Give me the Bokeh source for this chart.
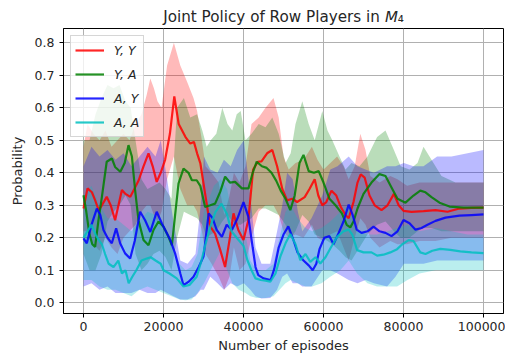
from bokeh.plotting import figure
from bokeh.models import (Range1d, FixedTicker, NumeralTickFormatter, Legend,
                          LegendItem, Title)
from bokeh.embed import file_html
from bokeh.resources import INLINE

# ---------------- data ----------------
SERIES = ["Y, Y", "Y, A", "A, Y", "A, A"]
COLORS = ["#ff0000", "#008000", "#0000ff", "#00bfbf"]

XTICKS = [0, 20000, 40000, 60000, 80000, 100000]
YTICKS = [0.0, 0.1, 0.2, 0.3, 0.4, 0.5, 0.6, 0.7, 0.8]

# mean curves
yy_x = [0, 1000, 2100, 2900, 3800, 4600, 5800, 6800, 7900, 9600,
        10500, 11700, 12700, 13800, 15000, 16250, 17300, 18300, 19300, 20400,
        21600, 22700, 23800, 25500, 26700, 27600, 28400, 29200, 30400, 31700,
        32900, 34200, 35400, 36600, 37500, 38700, 40000, 41200, 42400, 43600,
        44500, 45900, 47200, 48400, 49700, 50900, 52200, 53400, 55300, 56500,
        57800, 58700, 59700, 60700, 62000, 63200, 64300, 65500, 66300, 67500,
        68500, 69300, 70300, 71500, 72800, 74500, 76000, 77600, 78800, 80000,
        82000, 85000, 88000, 91000, 94000, 97000, 100000]
yy_y = [0.29, 0.352, 0.34, 0.316, 0.285, 0.30, 0.326, 0.30, 0.254, 0.347,
        0.335, 0.326, 0.35, 0.377, 0.42, 0.46, 0.42, 0.372, 0.40, 0.44,
        0.52, 0.635, 0.55, 0.51, 0.49, 0.495, 0.46, 0.43, 0.336, 0.234,
        0.213, 0.162, 0.11, 0.20, 0.275, 0.224, 0.193, 0.254, 0.41, 0.434,
        0.435, 0.46, 0.47, 0.42, 0.35, 0.315, 0.32, 0.31, 0.325, 0.35,
        0.38, 0.33, 0.30, 0.31, 0.345, 0.33, 0.295, 0.27, 0.26, 0.31,
        0.37, 0.395, 0.385, 0.33, 0.30, 0.285, 0.30, 0.335, 0.30, 0.283,
        0.28, 0.282, 0.285, 0.28, 0.29, 0.292, 0.293]

ya_x = [0, 700, 1500, 2200, 2900, 3700, 4600, 5800, 7100, 7900,
        9200, 10300, 11250, 12100, 12900, 13750, 15000, 16250, 17500, 18750,
        20000, 21250, 22100, 22900, 23750, 25000, 26250, 27100, 28300, 29200,
        30400, 31700, 32900, 34200, 35400, 36600, 37900, 39600, 41250, 42300,
        43300, 44600, 45800, 47000, 48200, 49300, 50500, 51700, 52800, 54000,
        55000, 56300, 57600, 58800, 60000, 61500, 63000, 64600, 65800, 66700,
        67500, 68500, 70000, 72000, 74000, 75500, 77000, 78500, 80500, 82500,
        84200, 85500, 87000, 89000, 91500, 95000, 100000]
ya_y = [0.331, 0.28, 0.21, 0.18, 0.172, 0.25, 0.326, 0.434, 0.444, 0.418,
        0.403, 0.43, 0.485, 0.45, 0.347, 0.254, 0.193, 0.177, 0.224, 0.25,
        0.234, 0.203, 0.177, 0.27, 0.367, 0.413, 0.40, 0.377, 0.377, 0.36,
        0.295, 0.30, 0.305, 0.342, 0.388, 0.37, 0.372, 0.352, 0.352, 0.40,
        0.434, 0.42, 0.415, 0.40, 0.375, 0.345, 0.32, 0.285, 0.33, 0.43,
        0.455, 0.405, 0.40, 0.405, 0.37, 0.32, 0.30, 0.275, 0.24, 0.232,
        0.25, 0.29, 0.335, 0.37, 0.396, 0.39, 0.355, 0.32, 0.308, 0.33,
        0.345, 0.34, 0.325, 0.308, 0.296, 0.293, 0.293]

ay_x = [0, 830, 2000, 3330, 4200, 5000, 6000, 7080, 8160, 9160,
        10400, 11670, 12800, 14160, 15400, 16700, 18300, 19600, 20600, 21700,
        22900, 24200, 25000, 26300, 27500, 28800, 30000, 31300, 32300, 33300,
        34600, 35800, 37100, 38500, 40000, 41200, 42300, 43000, 43700, 45000,
        46800, 47700, 48800, 50000, 51200, 52300, 53500, 55000, 56300, 57300,
        58200, 59000, 60200, 61500, 62500, 63800, 65000, 66300, 67300, 68300,
        69500, 71000, 72500, 74000, 75500, 77000, 78500, 80000, 81500, 83000,
        84500, 86000, 88000, 90500, 94000, 97000, 100000]
ay_y = [0.198, 0.183, 0.24, 0.29, 0.27, 0.224, 0.2, 0.183, 0.229, 0.183,
        0.152, 0.136, 0.19, 0.28, 0.254, 0.218, 0.28, 0.244, 0.22, 0.193,
        0.152, 0.09, 0.054, 0.065, 0.08, 0.11, 0.142, 0.275, 0.26, 0.224,
        0.203, 0.24, 0.224, 0.26, 0.31, 0.265, 0.17, 0.11, 0.085, 0.075,
        0.07, 0.105, 0.17, 0.21, 0.235, 0.20, 0.155, 0.13, 0.115, 0.10,
        0.12, 0.165, 0.20, 0.205, 0.18, 0.215, 0.25, 0.302, 0.27, 0.225,
        0.215, 0.22, 0.234, 0.22, 0.215, 0.205, 0.22, 0.255, 0.245, 0.225,
        0.23, 0.24, 0.252, 0.262, 0.268, 0.27, 0.272]

aa_x = [0, 1000, 2000, 3000, 4000, 4600, 5400, 6300, 7500, 8700,
        9600, 10500, 11300, 12200, 13200, 14500, 15800, 16800, 18000, 19300,
        20000, 21500, 23300, 25000, 26500, 28300, 29500, 30500, 31700, 33000,
        34500, 35800, 37000, 38300, 40000, 41000, 42000, 43000, 44300, 45500,
        46700, 48000, 49200, 50500, 51700, 53000, 54200, 55500, 56700, 58000,
        59200, 60500, 61700, 63400, 65000, 66300, 67200, 68400, 70000, 72000,
        73400, 75000, 76700, 78400, 79700, 81300, 82500, 84200, 85500, 87200,
        89200, 91700, 94200, 97000, 100000]
aa_y = [0.20, 0.22, 0.24, 0.21, 0.19, 0.18, 0.15, 0.12, 0.11, 0.13,
        0.09, 0.10, 0.06, 0.08, 0.10, 0.13, 0.136, 0.14, 0.13, 0.12,
        0.10, 0.09, 0.075, 0.05, 0.055, 0.08, 0.13, 0.18, 0.234, 0.28,
        0.305, 0.275, 0.22, 0.20, 0.175, 0.13, 0.10, 0.075, 0.07, 0.068,
        0.065, 0.09, 0.142, 0.183, 0.212, 0.18, 0.131, 0.15, 0.126, 0.14,
        0.121, 0.14, 0.167, 0.203, 0.22, 0.225, 0.21, 0.162, 0.155, 0.155,
        0.145, 0.148, 0.155, 0.165, 0.18, 0.193, 0.19, 0.155, 0.15, 0.16,
        0.166, 0.163, 0.158, 0.155, 0.153]

# shaded bands (lower / upper)
yy_bx = [0, 1000, 2500, 4000, 5500, 7000, 8500, 10000, 11500, 13000,
         14500, 15800, 16700, 17600, 18500, 19500, 20900, 22600, 24200, 25900,
         27500, 28400, 29600, 30500, 32000, 33800, 35200, 36500, 37600, 39000,
         40500, 42000, 43800, 45500, 47500, 48800, 50000, 51300, 53000, 55000,
         57100, 58500, 60000, 61700, 63400, 65000, 66300, 67800, 69200, 70500,
         71700, 74000, 76700, 78500, 80900, 84000, 88000, 92000, 96000, 100000]
yy_hi = [0.48, 0.55, 0.52, 0.50, 0.53, 0.48, 0.50, 0.52, 0.50, 0.55,
         0.58, 0.64, 0.69, 0.66, 0.62, 0.60, 0.73, 0.80, 0.73, 0.68,
         0.63, 0.59, 0.50, 0.42, 0.40, 0.37, 0.27, 0.33, 0.40, 0.37,
         0.42, 0.55, 0.57, 0.60, 0.63, 0.57, 0.45, 0.41, 0.43, 0.44,
         0.48, 0.44, 0.41, 0.43, 0.45, 0.42, 0.38, 0.42, 0.52, 0.47,
         0.39, 0.37, 0.39, 0.38, 0.36, 0.37, 0.37, 0.37, 0.37, 0.37]
yy_lo = [0.22, 0.22, 0.18, 0.16, 0.20, 0.17, 0.15, 0.20, 0.22, 0.24,
         0.28, 0.30, 0.30, 0.27, 0.25, 0.28, 0.38, 0.45, 0.35, 0.30,
         0.30, 0.28, 0.22, 0.15, 0.12, 0.08, 0.04, 0.08, 0.17, 0.10,
         0.12, 0.20, 0.28, 0.30, 0.30, 0.27, 0.22, 0.20, 0.21, 0.20,
         0.24, 0.20, 0.19, 0.21, 0.22, 0.17, 0.13, 0.20, 0.26, 0.24,
         0.20, 0.17, 0.19, 0.18, 0.18, 0.19, 0.19, 0.20, 0.20, 0.20]

ya_bx = [0, 1500, 3000, 4500, 6000, 7500, 9000, 10500, 11800, 13000,
         14500, 16000, 17500, 19000, 20500, 22000, 23400, 25100, 26700, 28400,
         29700, 30800, 31800, 33200, 34700, 36000, 37200, 38300, 39300, 40500,
         42000, 43800, 45500, 47200, 48800, 50500, 51800, 53000, 54700, 56300,
         57800, 59700, 61000, 62200, 64000, 65500, 67000, 69000, 71000, 73400,
         75500, 77600, 79300, 81500, 83500, 85000, 87000, 89500, 93000, 100000]
ya_hi = [0.50, 0.50, 0.58, 0.63, 0.67, 0.66, 0.67, 0.62, 0.60, 0.50,
         0.38, 0.35, 0.36, 0.37, 0.35, 0.32, 0.60, 0.63, 0.57, 0.58,
         0.53, 0.48, 0.50, 0.52, 0.60, 0.55, 0.53, 0.58, 0.59, 0.50,
         0.52, 0.55, 0.54, 0.57, 0.52, 0.43, 0.46, 0.55, 0.62, 0.55,
         0.50, 0.59, 0.53, 0.50, 0.45, 0.41, 0.43, 0.42, 0.45, 0.51,
         0.53, 0.47, 0.42, 0.41, 0.43, 0.48, 0.44, 0.39, 0.37, 0.37]
ya_lo = [0.15, 0.10, 0.10, 0.15, 0.25, 0.28, 0.30, 0.33, 0.30, 0.15,
         0.10, 0.12, 0.15, 0.16, 0.14, 0.10, 0.20, 0.28, 0.27, 0.26,
         0.24, 0.20, 0.21, 0.22, 0.25, 0.27, 0.25, 0.24, 0.24, 0.25,
         0.26, 0.29, 0.29, 0.28, 0.27, 0.24, 0.20, 0.22, 0.27, 0.25,
         0.21, 0.20, 0.19, 0.18, 0.16, 0.14, 0.13, 0.17, 0.21, 0.24,
         0.25, 0.22, 0.20, 0.20, 0.22, 0.23, 0.23, 0.22, 0.22, 0.22]

ay_bx = [0, 2000, 4000, 6000, 8000, 10000, 12000, 14000, 16000, 18000,
         19300, 20900, 22500, 24200, 26000, 28000, 29300, 30100, 31700, 33500,
         35100, 36800, 38400, 40100, 41700, 43000, 44500, 46700, 48400, 49700,
         50900, 52300, 53600, 54700, 57000, 59700, 61700, 63500, 66300, 68500,
         70500, 72600, 75900, 78000, 80100, 82500, 85000, 88400, 92000, 96000,
         100000]
ay_hi = [0.42, 0.48, 0.45, 0.47, 0.44, 0.46, 0.42, 0.45, 0.48, 0.45,
         0.50, 0.38, 0.25, 0.13, 0.12, 0.15, 0.30, 0.45, 0.41, 0.40,
         0.44, 0.42, 0.47, 0.50, 0.33, 0.17, 0.12, 0.12, 0.22, 0.30,
         0.40, 0.38, 0.28, 0.22, 0.26, 0.33, 0.41, 0.42, 0.45, 0.42,
         0.41, 0.40, 0.42, 0.42, 0.43, 0.42, 0.42, 0.45, 0.45, 0.46,
         0.47]
ay_lo = [0.05, 0.06, 0.04, 0.05, 0.03, 0.03, 0.03, 0.04, 0.03, 0.03,
         0.04, 0.03, 0.02, 0.01, 0.01, 0.02, 0.04, 0.04, 0.08, 0.06,
         0.04, 0.06, 0.05, 0.06, 0.04, 0.02, 0.013, 0.015, 0.04, 0.08,
         0.09, 0.06, 0.06, 0.05, 0.05, 0.10, 0.10, 0.09, 0.07, 0.06,
         0.07, 0.06, 0.05, 0.08, 0.12, 0.12, 0.12, 0.13, 0.13, 0.13,
         0.13]

aa_bx = [0, 2000, 4000, 6000, 8000, 10000, 12000, 14000, 16000, 18000,
         20000, 22000, 24000, 25500, 27000, 28500, 30100, 32600, 34300, 35900,
         37200, 38800, 40500, 41700, 43300, 45500, 47500, 49000, 50500, 51800,
         53500, 55500, 57200, 59500, 61700, 64200, 66300, 68400, 71000, 73400,
         76000, 78400, 81000, 84000, 88000, 92000, 96000, 100000]
aa_hi = [0.33, 0.36, 0.30, 0.26, 0.26, 0.24, 0.22, 0.25, 0.28, 0.27,
         0.24, 0.18, 0.12, 0.10, 0.11, 0.15, 0.28, 0.36, 0.38, 0.35,
         0.27, 0.24, 0.21, 0.13, 0.10, 0.10, 0.12, 0.20, 0.28, 0.30,
         0.26, 0.23, 0.22, 0.23, 0.25, 0.28, 0.30, 0.22, 0.21, 0.21,
         0.22, 0.23, 0.24, 0.22, 0.23, 0.22, 0.21, 0.21]
aa_lo = [0.07, 0.07, 0.05, 0.04, 0.04, 0.03, 0.02, 0.04, 0.05, 0.04,
         0.03, 0.02, 0.01, 0.008, 0.01, 0.03, 0.06, 0.12, 0.16, 0.10,
         0.06, 0.04, 0.03, 0.02, 0.015, 0.015, 0.02, 0.04, 0.06, 0.07,
         0.06, 0.05, 0.05, 0.06, 0.08, 0.10, 0.13, 0.09, 0.06, 0.05,
         0.05, 0.05, 0.07, 0.09, 0.10, 0.10, 0.10, 0.10]

MEANS = [(yy_x, yy_y), (ya_x, ya_y), (ay_x, ay_y), (aa_x, aa_y)]
BANDS = [(yy_bx, yy_lo, yy_hi), (ya_bx, ya_lo, ya_hi),
         (ay_bx, ay_lo, ay_hi), (aa_bx, aa_lo, aa_hi)]

TITLE = "Joint Policy of Row Players in \U0001D614\u2084"
XLABEL = "Number of episodes"
YLABEL = "Probability"

# ---------------- figure ----------------
FONT = "DejaVu Sans"
TXT = "#262626"

p = figure(width=505, height=356, output_backend="svg", toolbar_location=None,
           title=None,
           x_range=Range1d(-5000, 105000), y_range=Range1d(-0.033, 0.844),
           min_border_left=63, min_border_right=2, min_border_top=28,
           min_border_bottom=43)
p.add_layout(Title(text=TITLE, align="center", text_font=FONT,
                   text_font_size="15.2px", text_font_style="normal",
                   text_color=TXT, standoff=5), "above")
p.background_fill_color = "white"
p.border_fill_color = "white"
p.outline_line_color = "black"
p.outline_line_width = 1
p.outline_line_alpha = 1

for (bx, lo, hi), c in zip(BANDS, COLORS):
    p.varea(x=bx, y1=lo, y2=hi, fill_color=c, fill_alpha=0.27)

line_renderers = []
for (mx, my), c in zip(MEANS, COLORS):
    r = p.line(mx, my, line_color=c, line_width=2.2, line_alpha=0.85)
    line_renderers.append(r)

# axes
p.xaxis.ticker = FixedTicker(ticks=XTICKS)
p.yaxis.ticker = FixedTicker(ticks=YTICKS)
p.xgrid.ticker = FixedTicker(ticks=XTICKS)
p.ygrid.ticker = FixedTicker(ticks=YTICKS)
p.xaxis.formatter = NumeralTickFormatter(format="0")
p.yaxis.formatter = NumeralTickFormatter(format="0.0")
for ax in (p.xaxis, p.yaxis):
    ax.minor_tick_line_color = None
    ax.major_tick_in = 0
    ax.major_tick_out = 4
    ax.major_tick_line_color = "black"
    ax.axis_line_color = "black"
    ax.major_label_text_font = FONT
    ax.major_label_text_font_size = "12.5px"
    ax.major_label_text_color = TXT
    ax.axis_label_text_font = FONT
    ax.axis_label_text_font_size = "13px"
    ax.axis_label_text_font_style = "normal"
    ax.axis_label_text_color = TXT
p.xaxis.major_label_standoff = 4
p.yaxis.major_label_standoff = 5
p.xaxis.axis_label = XLABEL
p.yaxis.axis_label = YLABEL
p.xaxis.axis_label_standoff = 4
p.yaxis.axis_label_standoff = 7

p.grid.grid_line_color = "#b0b0b0"
p.grid.grid_line_width = 1
p.grid.grid_line_alpha = 1

# legend
items = [LegendItem(label=s, renderers=[r]) for s, r in zip(SERIES, line_renderers)]
legend = Legend(items=items, location="top_left")
legend.margin = 7
legend.padding = 4
legend.spacing = 4
legend.glyph_width = 29
legend.glyph_height = 20
legend.label_height = 20
legend.label_standoff = 10
legend.label_text_font = FONT
legend.label_text_font_size = "12.5px"
legend.label_text_font_style = "italic"
legend.label_text_color = TXT
legend.border_line_color = "#cccccc"
legend.border_line_alpha = 0.8
legend.background_fill_color = "white"
legend.background_fill_alpha = 0.8
p.add_layout(legend)

open("out.html", "w").write(file_html(p, INLINE))
